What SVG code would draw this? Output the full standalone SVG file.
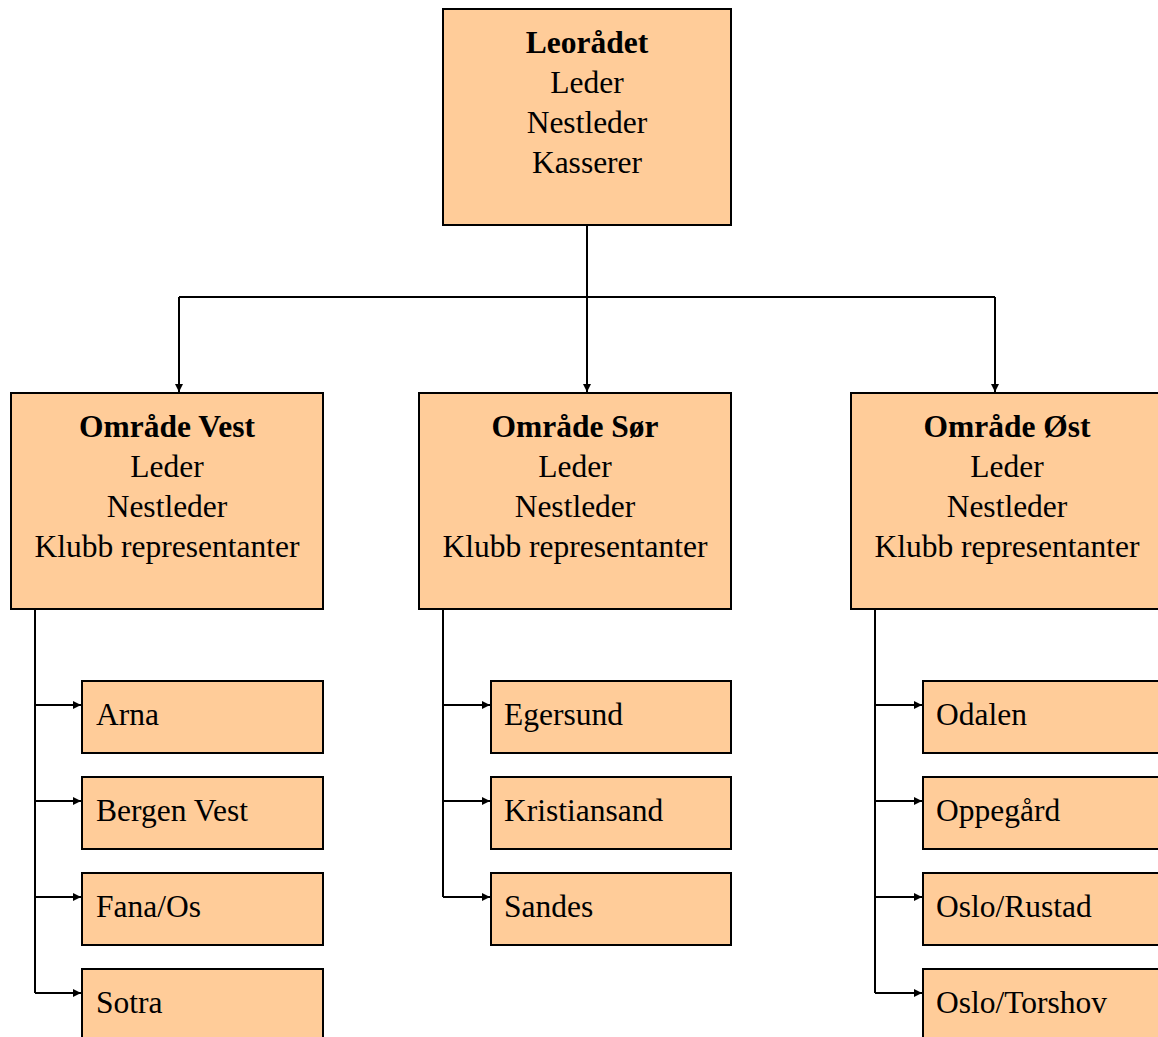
<svg xmlns="http://www.w3.org/2000/svg" width="1158" height="1037" viewBox="0 0 1158 1037">
<style>
.box{fill:#FFCC99;stroke:#000;stroke-width:2}
.c{text-anchor:middle}
.b{font-weight:bold}
.ln{fill:none;stroke:#000;stroke-width:2}
</style>
<defs>
<marker id="ah" viewBox="0 0 10 10" refX="10" refY="5" markerWidth="8" markerHeight="8" markerUnits="userSpaceOnUse" orient="auto">
<path d="M0,0 L10,5 L0,10 Z" fill="#000"/>
</marker>
</defs>
<rect width="1158" height="1037" fill="#fff"/>
<g id="connectors">
<path class="ln" d="M587,225 V297"/>
<path class="ln" d="M179,297 H995"/>
<path class="ln" d="M179,297 V392" marker-end="url(#ah)"/>
<path class="ln" d="M587,297 V392" marker-end="url(#ah)"/>
<path class="ln" d="M995,297 V392" marker-end="url(#ah)"/>
<path class="ln" d="M35,609 V993"/>
<path class="ln" d="M35,705 H81" marker-end="url(#ah)"/>
<path class="ln" d="M35,801 H81" marker-end="url(#ah)"/>
<path class="ln" d="M35,897 H81" marker-end="url(#ah)"/>
<path class="ln" d="M35,993 H81" marker-end="url(#ah)"/>
<path class="ln" d="M443,609 V897"/>
<path class="ln" d="M443,705 H490" marker-end="url(#ah)"/>
<path class="ln" d="M443,801 H490" marker-end="url(#ah)"/>
<path class="ln" d="M443,897 H490" marker-end="url(#ah)"/>
<path class="ln" d="M875,609 V993"/>
<path class="ln" d="M875,705 H922" marker-end="url(#ah)"/>
<path class="ln" d="M875,801 H922" marker-end="url(#ah)"/>
<path class="ln" d="M875,897 H922" marker-end="url(#ah)"/>
<path class="ln" d="M875,993 H922" marker-end="url(#ah)"/>
</g>
<g font-family="'Liberation Serif', 'DejaVu Serif', serif" font-size="31.5" fill="#000">
<g id="leoradet">
<rect class="box" x="443" y="9" width="288" height="216"/>
<text class="c b" x="587" y="53">Leorådet</text>
<text class="c" x="587" y="93">Leder</text>
<text class="c" x="587" y="133">Nestleder</text>
<text class="c" x="587" y="173">Kasserer</text>
</g>
<g id="omrade-vest">
<rect class="box" x="11" y="393" width="312" height="216"/>
<text class="c b" x="167" y="437">Område Vest</text>
<text class="c" x="167" y="477">Leder</text>
<text class="c" x="167" y="517">Nestleder</text>
<text class="c" x="167" y="557">Klubb representanter</text>
</g>
<g id="omrade-sor">
<rect class="box" x="419" y="393" width="312" height="216"/>
<text class="c b" x="575" y="437">Område Sør</text>
<text class="c" x="575" y="477">Leder</text>
<text class="c" x="575" y="517">Nestleder</text>
<text class="c" x="575" y="557">Klubb representanter</text>
</g>
<g id="omrade-ost">
<rect class="box" x="851" y="393" width="312" height="216"/>
<text class="c b" x="1007" y="437">Område Øst</text>
<text class="c" x="1007" y="477">Leder</text>
<text class="c" x="1007" y="517">Nestleder</text>
<text class="c" x="1007" y="557">Klubb representanter</text>
</g>
<g id="arna"><rect class="box" x="82" y="681" width="241" height="72"/><text x="96" y="725">Arna</text></g>
<g id="bergen-vest"><rect class="box" x="82" y="777" width="241" height="72"/><text x="96" y="821">Bergen Vest</text></g>
<g id="fana-os"><rect class="box" x="82" y="873" width="241" height="72"/><text x="96" y="917">Fana/Os</text></g>
<g id="sotra"><rect class="box" x="82" y="969" width="241" height="72"/><text x="96" y="1013">Sotra</text></g>
<g id="egersund"><rect class="box" x="491" y="681" width="240" height="72"/><text x="504" y="725">Egersund</text></g>
<g id="kristiansand"><rect class="box" x="491" y="777" width="240" height="72"/><text x="504" y="821">Kristiansand</text></g>
<g id="sandes"><rect class="box" x="491" y="873" width="240" height="72"/><text x="504" y="917">Sandes</text></g>
<g id="odalen"><rect class="box" x="923" y="681" width="240" height="72"/><text x="936" y="725">Odalen</text></g>
<g id="oppegard"><rect class="box" x="923" y="777" width="240" height="72"/><text x="936" y="821">Oppegård</text></g>
<g id="oslo-rustad"><rect class="box" x="923" y="873" width="240" height="72"/><text x="936" y="917">Oslo/Rustad</text></g>
<g id="oslo-torshov"><rect class="box" x="923" y="969" width="240" height="72"/><text x="936" y="1013">Oslo/Torshov</text></g>
</g>
</svg>
